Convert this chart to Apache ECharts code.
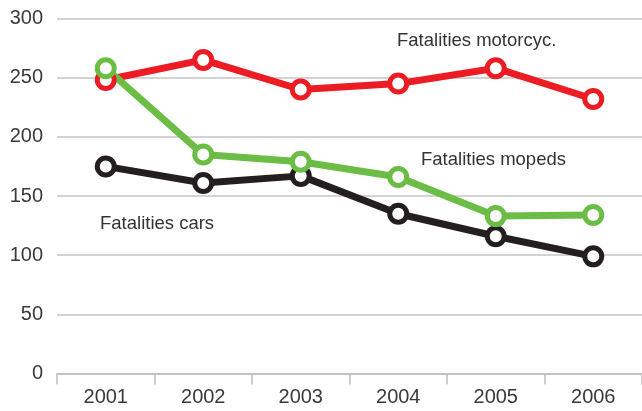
<!DOCTYPE html>
<html><head><meta charset="utf-8">
<script src="https://cdn.jsdelivr.net/npm/echarts@6/dist/echarts.min.js"></script>
<style>html,body{margin:0;padding:0;background:#fff}#c{width:642px;height:411px}</style>
</head><body><div id="c"></div>
<script>
const years = ['2001','2002','2003','2004','2005','2006'];
const motorcycles = [248, 265, 240, 245, 258, 232];
const mopeds = [258, 185, 179, 166, 133, 134];
const cars = [175, 161, 167, 135, 116, 99];
const yTicks = [0, 50, 100, 150, 200, 250, 300];

const font = '"Liberation Sans", Arial, Helvetica, sans-serif';
function lineSeries(name, data, color) {
  return {
    name, type: 'line', data,
    symbol: 'circle', symbolSize: 17,
    lineStyle: { color, width: 7 },
    itemStyle: { color: '#fff', borderColor: color, borderWidth: 5 },
    emphasis: { disabled: true },
    animation: false
  };
}
const chart = echarts.init(document.getElementById('c'));
chart.setOption({
  animation: false,
  grid: { left: 57, right: 0, top: 18.5, bottom: 37.5, containLabel: false },
  xAxis: {
    type: 'category', data: years, boundaryGap: true,
    axisLine: { lineStyle: { color: '#bdbdbd', width: 1.5 } },
    axisTick: { show: true, length: 11, lineStyle: { color: '#bdbdbd', width: 1.5 } },
    axisLabel: { color: '#3a3a3a', fontSize: 20, fontFamily: font, margin: 14 }
  },
  yAxis: {
    type: 'value', min: yTicks[0], max: yTicks[yTicks.length - 1], interval: 50,
    axisLine: { show: false }, axisTick: { show: false },
    splitLine: { lineStyle: { color: '#c4c4c4', width: 1.5 } },
    axisLabel: { color: '#3a3a3a', fontSize: 20, fontFamily: font, margin: 14 }
  },
  series: [
    lineSeries('Fatalities cars', cars, '#231f20'),
    lineSeries('Fatalities motorcyc.', motorcycles, '#ec1c24'),
    lineSeries('Fatalities mopeds', mopeds, '#6cbd45')
  ],
  graphic: [
    { type: 'text', x: 397, y: 31, style: { text: 'Fatalities motorcyc.', fill: '#333', font: '18.5px ' + font } },
    { type: 'text', x: 421, y: 150, style: { text: 'Fatalities mopeds', fill: '#333', font: '18.5px ' + font } },
    { type: 'text', x: 100, y: 214, style: { text: 'Fatalities cars', fill: '#333', font: '18.5px ' + font } }
  ]
});
</script></body></html>
